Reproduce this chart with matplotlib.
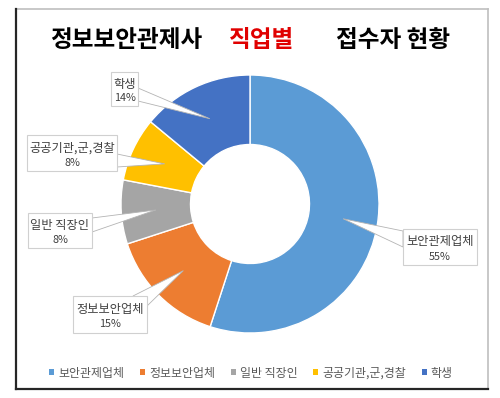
import matplotlib
matplotlib.use('Agg')
import matplotlib.pyplot as plt
import numpy as np
from matplotlib.patches import Polygon, Rectangle, Patch
from matplotlib.lines import Line2D

plt.rcParams['font.family'] = ['Noto Sans CJK KR', 'DejaVu Sans']

# data
categories = ['보안관제업체', '정보보안업체', '일반 직장인', '공공기관,군,경찰', '학생']
values = [55, 15, 8, 8, 14]
colors = ['#5B9BD5', '#ED7D31', '#A5A5A5', '#FFC000', '#4472C4']

H = 398
def Y(y):  # image row -> data y
    return H - y

fig = plt.figure(figsize=(5, 3.98), dpi=100)
ax = fig.add_axes([0, 0, 1, 1])

cx, cy = 250, Y(204)
r_out, r_in = 129, 59.5
wedges, _ = ax.pie(values, colors=colors, startangle=90, counterclock=False,
                   center=(cx, cy), radius=r_out,
                   wedgeprops=dict(width=r_out - r_in, edgecolor='white', linewidth=1))
ax.set_xlim(0, 500)
ax.set_ylim(0, H)
ax.set_aspect('equal')
ax.axis('off')

# label boxes (image coords: left, top, right, bottom) and callout base points
boxes = [(403, 229, 477, 265), (73, 296, 147, 333), (28, 213, 92, 248),
         (27, 135, 117, 171), (111, 72, 138, 106)]
bases = [((403, 231), (403, 247)), ((133, 296), (147, 306)), ((92, 218), (92, 232)),
         ((117, 154), (117, 167)), ((138, 88), (138, 101))]

total = sum(values)
cum = 0
r_mid = (r_in + r_out) / 2
for i, (cat, v) in enumerate(zip(categories, values)):
    mid = 90 - 360 * (cum + v / 2) / total
    cum += v
    tip = (cx + r_mid * np.cos(np.radians(mid)), cy + r_mid * np.sin(np.radians(mid)))
    b1, b2 = bases[i]
    ax.add_patch(Polygon([(b1[0], Y(b1[1])), tip, (b2[0], Y(b2[1]))], closed=True,
                         facecolor='white', edgecolor='#b4b4b4', lw=0.6, zorder=3))
    l, t, r, b = boxes[i]
    ax.add_patch(Rectangle((l, Y(b)), r - l, b - t, facecolor='white',
                           edgecolor='#d0d0d0', lw=0.8, zorder=4))
    xc = (l + r) / 2
    ax.text(xc, Y(t + (b - t) * 0.36), cat, ha='center', va='center', fontsize=8.8,
            color='#404040', zorder=5)
    ax.text(xc, Y(t + (b - t) * 0.77), f'{v}%', ha='center', va='center', fontsize=7.8,
            color='#404040', zorder=5)

# title
ax.text(50, Y(40), '정보보안관제사', fontsize=17, fontweight='bold', color='black',
        ha='left', va='center')
ax.text(229, Y(40), '직업별', fontsize=17, fontweight='bold', color='#E00000',
        ha='left', va='center')
ax.text(336, Y(40), '접수자 현황', fontsize=17, fontweight='bold', color='black',
        ha='left', va='center')

# legend
handles = [Patch(facecolor=c, edgecolor='none') for c in colors]
leg = ax.legend(handles, categories, loc='center', bbox_to_anchor=(251 / 500, 1 - 373 / H),
                ncol=5, frameon=False, fontsize=8.6, handlelength=0.42, handleheight=0.42,
                handletextpad=0.35, columnspacing=1.3, labelcolor='#595959')

# frame
ax.add_line(Line2D([16, 488], [Y(9), Y(9)], color='#bfbfbf', lw=1.2))
ax.add_line(Line2D([488, 488], [Y(9), Y(389)], color='#bfbfbf', lw=1.2))
ax.add_line(Line2D([16, 16], [Y(9), Y(389)], color='#262626', lw=1.6))
ax.add_line(Line2D([16, 488], [Y(389), Y(389)], color='#262626', lw=1.6))

fig.savefig('out.png', dpi=100)
